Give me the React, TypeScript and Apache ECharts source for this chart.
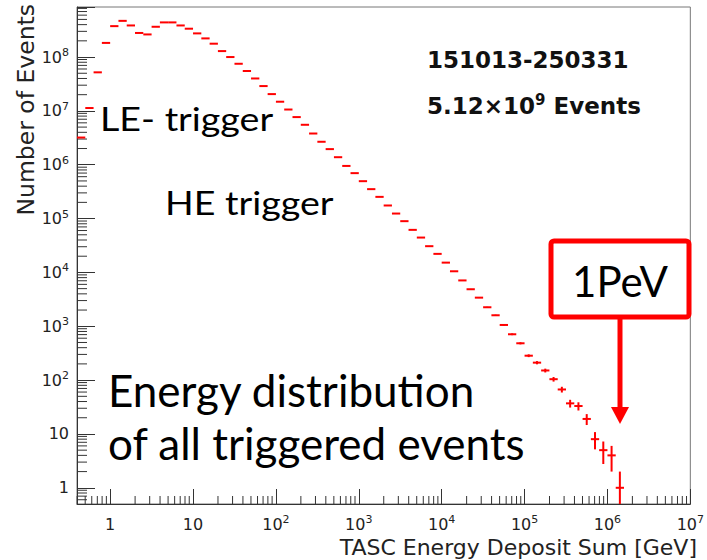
import React, { useEffect, useRef } from "react";
import * as echarts from "echarts";

// Histogram binning: 10 bins per decade, first lower edge at 10^-0.4 GeV
const FIRST_EDGE_EXP = -0.4;
const BIN_WIDTH_EXP = 0.1;

// Events per bin
const counts = [
  3.2e6, 1.13e7, 5.2e7, 1.83e8, 3.75e8, 4.7e8, 3.86e8, 2.8e8, 2.63e8, 3.65e8,
  4.4e8, 4.4e8, 3.86e8, 3.36e8, 2.75e8, 2.22e8, 1.77e8, 1.29e8, 1.0e8, 7.5e7,
  5.5e7, 4.0e7, 2.89e7, 2.05e7, 1.48e7, 1.06e7, 7.67e6, 5.52e6, 3.8e6, 2.67e6,
  1.95e6, 1.38e6, 9.5e5, 6.98e5, 4.95e5, 3.52e5, 2.53e5, 1.75e5, 1.24e5, 8.95e4,
  6.17e4, 4.44e4, 3.07e4, 2.21e4, 1.52e4, 1.05e4, 7100, 4870, 3400, 2254,
  1600, 1057, 710, 483, 284, 211, 151, 104, 67, 37,
  33, 19, 8, 5, 4, 1,
];

const X_MIN = Math.pow(10, -0.4);
const X_MAX = 1e7;
const Y_MIN = 0.5;
const Y_MAX = 8.5e8;

const xTickValues = [1, 10, 1e2, 1e3, 1e4, 1e5, 1e6, 1e7];
const xTickLabels = ["1", "10", "10{sup|2}", "10{sup|3}", "10{sup|4}", "10{sup|5}", "10{sup|6}", "10{sup|7}"];
const yTickValues = [1, 10, 1e2, 1e3, 1e4, 1e5, 1e6, 1e7, 1e8];
const yTickLabels = ["1", "10", "10{sup|2}", "10{sup|3}", "10{sup|4}", "10{sup|5}", "10{sup|6}", "10{sup|7}", "10{sup|8}"];

const RED = "#ff0000";
const AXIS = "#333";
const TICK_FONT = "DejaVu Sans";
const NOTE_FONT = "Lato";

const supRich = {
  sup: { fontSize: 11, lineHeight: 11, verticalAlign: "top", fontFamily: TICK_FONT, color: "#222" },
};

function lookupLabel(values: number[], labels: string[], v: number) {
  for (let i = 0; i < values.length; i++) {
    if (Math.abs(v - values[i]) / values[i] < 1e-6) return labels[i];
  }
  return "";
}

function minorTicks(lo: number, hi: number) {
  const out: number[] = [];
  const e0 = Math.floor(Math.log10(lo));
  const e1 = Math.ceil(Math.log10(hi));
  for (let e = e0; e <= e1; e++) {
    for (let m = 2; m <= 9; m++) {
      const v = m * Math.pow(10, e);
      if (v > lo * 1.0001 && v < hi * 0.9999) out.push(v);
    }
  }
  return out;
}

export default function App() {
  const ref = useRef<HTMLDivElement>(null);

  useEffect(() => {
    if (!ref.current) return;
    const chart = echarts.init(ref.current, null, { renderer: "svg" });

    const histData = counts.map((c, i) => [
      Math.pow(10, FIRST_EDGE_EXP + i * BIN_WIDTH_EXP),
      Math.pow(10, FIRST_EDGE_EXP + (i + 1) * BIN_WIDTH_EXP),
      c,
    ]);
    const xMinor = minorTicks(X_MIN, X_MAX).map((v) => [v, Y_MIN]);
    const yMinor = minorTicks(Y_MIN, Y_MAX).map((v) => [X_MIN, v]);

    const noteStyle = (text: string, size: number) => ({
      text,
      fontFamily: NOTE_FONT,
      fontSize: size,
      fill: "#000",
      align: "left",
      verticalAlign: "middle",
    });

    const option: any = {
      animation: false,
      grid: {
        left: 77,
        right: 10,
        top: 7,
        bottom: 56,
        show: true,
        borderColor: "#777",
        borderWidth: 1,
        backgroundColor: "transparent",
      },
      xAxis: {
        type: "log",
        logBase: 10,
        min: X_MIN,
        max: X_MAX,
        axisLine: { show: true, lineStyle: { color: AXIS, width: 1 } },
        axisTick: { show: true, inside: true, length: 15, interval: 0, lineStyle: { color: AXIS } },
        splitLine: { show: false },
        axisLabel: {
          interval: 0,
          margin: 10,
          color: "#222",
          fontFamily: TICK_FONT,
          fontSize: 16,
          lineHeight: 20,
          rich: supRich,
          formatter: (v: number) => lookupLabel(xTickValues, xTickLabels, v),
        },
      },
      yAxis: {
        type: "log",
        logBase: 10,
        min: Y_MIN,
        max: Y_MAX,
        axisLine: { show: true, lineStyle: { color: AXIS, width: 1 } },
        axisTick: { show: true, inside: true, length: 18, interval: 0, lineStyle: { color: AXIS } },
        splitLine: { show: false },
        axisLabel: {
          interval: 0,
          margin: 8,
          color: "#222",
          fontFamily: TICK_FONT,
          fontSize: 16,
          lineHeight: 20,
          rich: supRich,
          formatter: (v: number) => lookupLabel(yTickValues, yTickLabels, v),
        },
      },
      series: [
        {
          type: "custom",
          name: "x minor ticks",
          silent: true,
          clip: false,
          data: xMinor,
          encode: { x: 0, y: 1 },
          renderItem: (_p: any, api: any) => {
            const p = api.coord([api.value(0), api.value(1)]);
            return {
              type: "line",
              shape: { x1: p[0], y1: p[1], x2: p[0], y2: p[1] - 8 },
              style: { stroke: AXIS, lineWidth: 1 },
            };
          },
        },
        {
          type: "custom",
          name: "y minor ticks",
          silent: true,
          clip: false,
          data: yMinor,
          encode: { x: 0, y: 1 },
          renderItem: (_p: any, api: any) => {
            const p = api.coord([api.value(0), api.value(1)]);
            return {
              type: "line",
              shape: { x1: p[0], y1: p[1], x2: p[0] + 10, y2: p[1] },
              style: { stroke: AXIS, lineWidth: 1 },
            };
          },
        },
        {
          type: "custom",
          name: "Events",
          clip: true,
          data: histData,
          encode: { x: [0, 1], y: 2 },
          renderItem: (_p: any, api: any) => {
            const lo = api.value(0);
            const hi = api.value(1);
            const n = api.value(2);
            const a = api.coord([lo, n]);
            const b = api.coord([hi, n]);
            const xc = Math.sqrt(lo * hi);
            const err = Math.sqrt(n);
            const e1 = api.coord([xc, Math.max(n - err, Y_MIN)]);
            const e2 = api.coord([xc, n + err]);
            return {
              type: "group",
              children: [
                {
                  type: "line",
                  shape: { x1: a[0], y1: a[1], x2: b[0], y2: b[1] },
                  style: { stroke: RED, lineWidth: 2 },
                },
                {
                  type: "line",
                  shape: { x1: e1[0], y1: e1[1], x2: e2[0], y2: e2[1] },
                  style: { stroke: RED, lineWidth: 2 },
                },
              ],
            };
          },
        },
      ],
      graphic: [
        {
          type: "text",
          x: 26,
          y: 4,
          rotation: Math.PI / 2,
          style: {
            text: "Number of Events",
            fontFamily: TICK_FONT,
            fontSize: 23.5,
            fill: "#222",
            align: "right",
            verticalAlign: "middle",
          },
        },
        {
          type: "text",
          x: 697,
          y: 547,
          style: {
            text: "TASC Energy Deposit Sum [GeV]",
            fontFamily: TICK_FONT,
            fontSize: 22,
            fill: "#222",
            align: "right",
            verticalAlign: "middle",
          },
        },
        {
          type: "text",
          x: 427,
          y: 60,
          style: {
            text: "151013-250331",
            fontFamily: TICK_FONT,
            fontWeight: "bold",
            fontSize: 23,
            fill: "#111",
            align: "left",
            verticalAlign: "middle",
          },
        },
        {
          type: "text",
          x: 427,
          y: 106,
          style: {
            text: "5.12×10{sup|9} Events",
            fontFamily: TICK_FONT,
            fontWeight: "bold",
            fontSize: 23,
            lineHeight: 28,
            fill: "#111",
            align: "left",
            verticalAlign: "middle",
            rich: {
              sup: { fontSize: 15, lineHeight: 15, verticalAlign: "top", fontWeight: "bold", fontFamily: TICK_FONT, fill: "#111" },
            },
          },
        },
        { type: "text", x: 100, y: 118, scaleX: 1.14, style: noteStyle("LE- trigger", 33) },
        { type: "text", x: 165, y: 202, scaleX: 1.14, style: noteStyle("HE trigger", 33) },
        { type: "text", x: 108, y: 390, style: noteStyle("Energy distribution", 44) },
        { type: "text", x: 108, y: 443, style: noteStyle("of all triggered events", 44) },
        {
          type: "rect",
          shape: { x: 551, y: 241, width: 138, height: 76, r: 3 },
          style: { fill: "#fff", stroke: RED, lineWidth: 5 },
        },
        {
          type: "text",
          x: 620,
          y: 281,
          style: { text: "1PeV", fontFamily: NOTE_FONT, fontSize: 42, fill: "#000", align: "center", verticalAlign: "middle" },
        },
        {
          type: "line",
          shape: { x1: 620, y1: 319, x2: 620, y2: 410 },
          style: { stroke: RED, lineWidth: 5 },
        },
        {
          type: "polygon",
          shape: { points: [[611, 407], [629, 407], [620, 424]] },
          style: { fill: RED },
        },
      ],
    };

    chart.setOption(option);
    return () => chart.dispose();
  }, []);

  return (
    <div
      ref={ref}
      style={{ position: "absolute", left: 0, top: 0, width: 707, height: 560, background: "#fff" }}
    />
  );
}
